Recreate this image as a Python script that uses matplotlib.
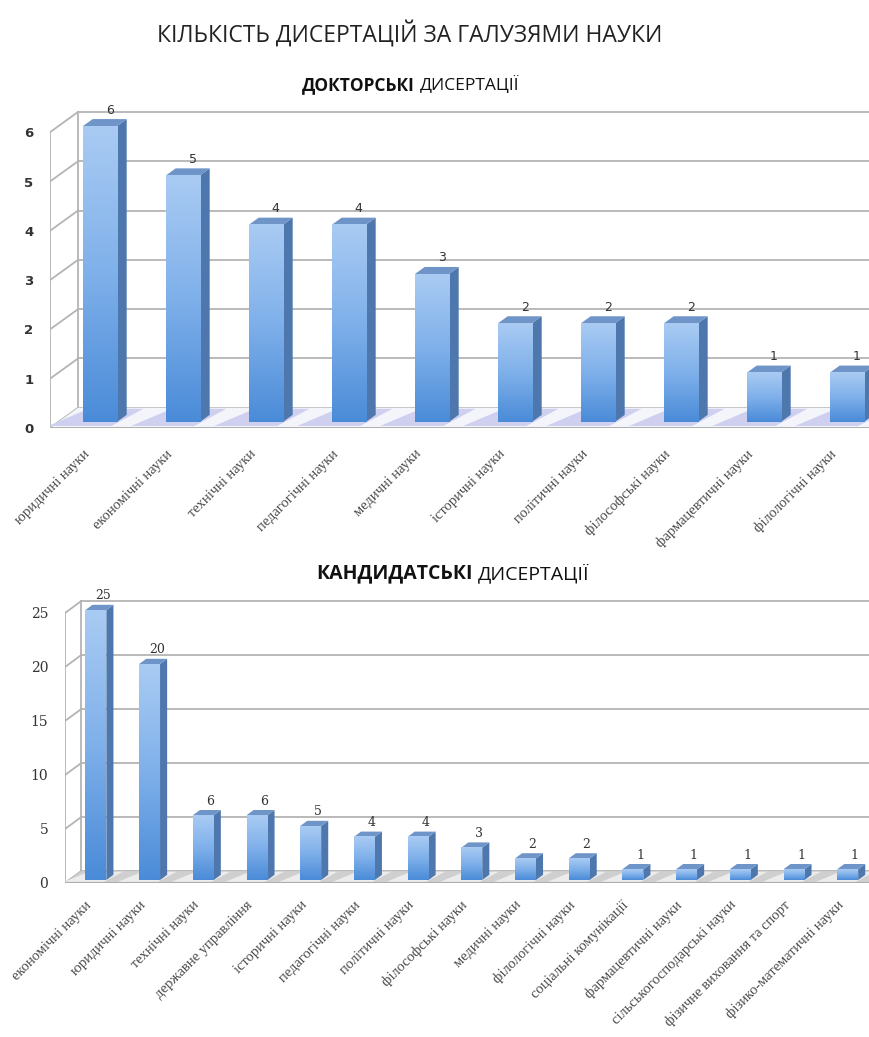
import numpy as np
import matplotlib
matplotlib.use('Agg')
import matplotlib.pyplot as plt
from matplotlib.patches import Polygon
from matplotlib.colors import LinearSegmentedColormap

W, H = 869, 1037

DOC_CATS = ['юридичні науки', 'економічні науки', 'технічні науки', 'педагогічні науки',
            'медичні науки', 'історичні науки', 'політичні науки', 'філософські науки',
            'фармацевтичні науки', 'філологічні науки']
DOC_VALS = [6, 5, 4, 4, 3, 2, 2, 2, 1, 1]
DOC_TICKS = [0, 1, 2, 3, 4, 5, 6]

CAND_CATS = ['економічні науки', 'юридичні науки', 'технічні науки', 'державне управління',
             'історичні науки', 'педагогічні науки', 'політичні науки', 'філософські науки',
             'медичні науки', 'філологічні науки', 'соціальні комунікації',
             'фармацевтичні науки', 'сільськогосподарські науки',
             'фізичне виховання та спорт', 'фізико-математичні науки']
CAND_VALS = [25, 20, 6, 6, 5, 4, 4, 3, 2, 2, 1, 1, 1, 1, 1]
CAND_TICKS = [0, 5, 10, 15, 20, 25]

FRONT = LinearSegmentedColormap.from_list('front', ['#4a8bd8', '#7fb0ea', '#a9cbf3'])
SIDE = '#4d77ad'
TOP = '#6f95c8'
GRID = '#b4b4b4'
TXT = '#333333'


def draw_chart(cats, vals, ticks, left_px, zero_px, unit_px, val_px, ymax,
               dx, dy, tf, tb, w, floor_col, shadow_col, tick_font, tick_pad,
               val_font, cat_off):
    n = len(cats)
    xr = n - 0.5 + dx + 0.4
    width_px = (xr + 0.5) * unit_px
    height_px = ymax * val_px
    ax = fig.add_axes([left_px / W, 1 - zero_px / H, width_px / W, height_px / H])

    def P(x, v, t):
        return (x + t * dx, v + t * dy)

    # left wall + back wall grid
    top = ticks[-1]
    for v in ticks:
        a, b = P(-0.5, v, 0), P(-0.5, v, 1)
        ax.plot([a[0], b[0]], [a[1], b[1]], color=GRID, lw=1.3, zorder=1)
        ax.plot([b[0], xr], [b[1], b[1]], color=GRID, lw=1.3, zorder=1)
    for t in (0, 1):
        a, b = P(-0.5, 0, t), P(-0.5, top, t)
        ax.plot([a[0], b[0]], [a[1], b[1]], color=GRID, lw=1.3, zorder=1)

    # floor
    floor = [P(-0.5, 0, 0), P(xr, 0, 0), P(xr, 0, 1), P(-0.5, 0, 1)]
    ax.add_patch(Polygon(floor, closed=True, facecolor=floor_col,
                         edgecolor='none', zorder=1.2))
    ax.plot([floor[0][0], floor[1][0]], [0, 0], color='#a8a8a8', lw=2, zorder=1.3,
            solid_capstyle='butt')

    grad = np.linspace(0, 1, 128).reshape(-1, 1)
    for i, v in enumerate(vals):
        # shadow on the floor
        sh = [P(i - w - 0.35, 0, 0.1), P(i + w, 0, 0.1), P(i + w + 0.1, 0, 0.95),
              P(i - w - 0.15, 0, 0.95)]
        ax.add_patch(Polygon(sh, closed=True, facecolor=shadow_col,
                             edgecolor='none', zorder=1.5))
        side = [P(i + w, 0, tf), P(i + w, v, tf), P(i + w, v, tb), P(i + w, 0, tb)]
        ax.add_patch(Polygon(side, closed=True, facecolor=SIDE, edgecolor='none', zorder=3))
        tp = [P(i - w, v, tf), P(i + w, v, tf), P(i + w, v, tb), P(i - w, v, tb)]
        ax.add_patch(Polygon(tp, closed=True, facecolor=TOP, edgecolor='none', zorder=3))
        x0, y0 = P(i - w, 0, tf)
        x1, y1 = P(i + w, v, tf)
        ax.imshow(grad, extent=(x0, x1, y0, y1), origin='lower', cmap=FRONT,
                  aspect='auto', zorder=4, interpolation='bilinear')
        lx, ly = P(i, v, tb)
        ax.annotate(str(v), xy=(lx, ly), xytext=(0, 9), textcoords='offset pixels',
                    ha='center', va='center', color=TXT, **val_font)
        ax.annotate(cats[i], xy=(i, 0), xytext=cat_off, textcoords='offset pixels',
                    rotation=45, rotation_mode='anchor', ha='right', va='center',
                    family='Liberation Serif', fontsize=10.5, color='#4a4a4a',
                    annotation_clip=False)

    ax.set_xlim(-0.5, xr)
    ax.set_ylim(0, ymax)
    ax.set_xticks([])
    ax.set_yticks(ticks)
    ax.set_yticklabels([str(t) for t in ticks], color=TXT, **tick_font)
    ax.tick_params(axis='y', length=0, pad=tick_pad)
    for s in ax.spines.values():
        s.set_visible(False)
    return ax


fig = plt.figure(figsize=(W / 100, H / 100), dpi=100)

fig.text(410 / W, 1 - 35 / H, 'КІЛЬКІСТЬ ДИСЕРТАЦІЙ ЗА ГАЛУЗЯМИ НАУКИ',
         ha='center', va='center', family='Open Sans', fontsize=16.5, color='#222222')

fig.text(415 / W, 1 - 85 / H, 'ДОКТОРСЬКІ', ha='right', va='center',
         family='Open Sans', fontweight='bold', fontsize=12.5, color='#111111')
fig.text(420 / W, 1 - 85 / H, 'ДИСЕРТАЦІЇ', ha='left', va='center',
         family='Open Sans', fontsize=12.5, color='#111111')

fig.text(473 / W, 1 - 573 / H, 'КАНДИДАТСЬКІ', ha='right', va='center',
         family='Open Sans', fontweight='bold', fontsize=14, color='#111111')
fig.text(478 / W, 1 - 573 / H, 'ДИСЕРТАЦІЇ', ha='left', va='center',
         family='Open Sans', fontsize=14, color='#111111')

draw_chart(DOC_CATS, DOC_VALS, DOC_TICKS, left_px=50, zero_px=428, unit_px=83,
           val_px=49.3, ymax=6.8, dx=0.337, dy=0.41, tf=0.3, tb=0.65, w=0.205,
           floor_col='#f4f4fb', shadow_col='#cfcff0',
           tick_font=dict(family='DejaVu Sans', fontweight='bold', fontsize=9.5),
           tick_pad=12, val_font=dict(family='DejaVu Sans', fontsize=9),
           cat_off=(-4, -24))

draw_chart(CAND_CATS, CAND_VALS, CAND_TICKS, left_px=65, zero_px=883, unit_px=53.7,
           val_px=10.8, ymax=27.5, dx=0.3, dy=1.1, tf=0.25, tb=0.69, w=0.195,
           floor_col='#cfcfcf', shadow_col='#ececec',
           tick_font=dict(family='DejaVu Serif', fontsize=10),
           tick_pad=12, val_font=dict(family='DejaVu Serif', fontsize=9),
           cat_off=(-2, -20))

fig.savefig('out.png', dpi=100)
